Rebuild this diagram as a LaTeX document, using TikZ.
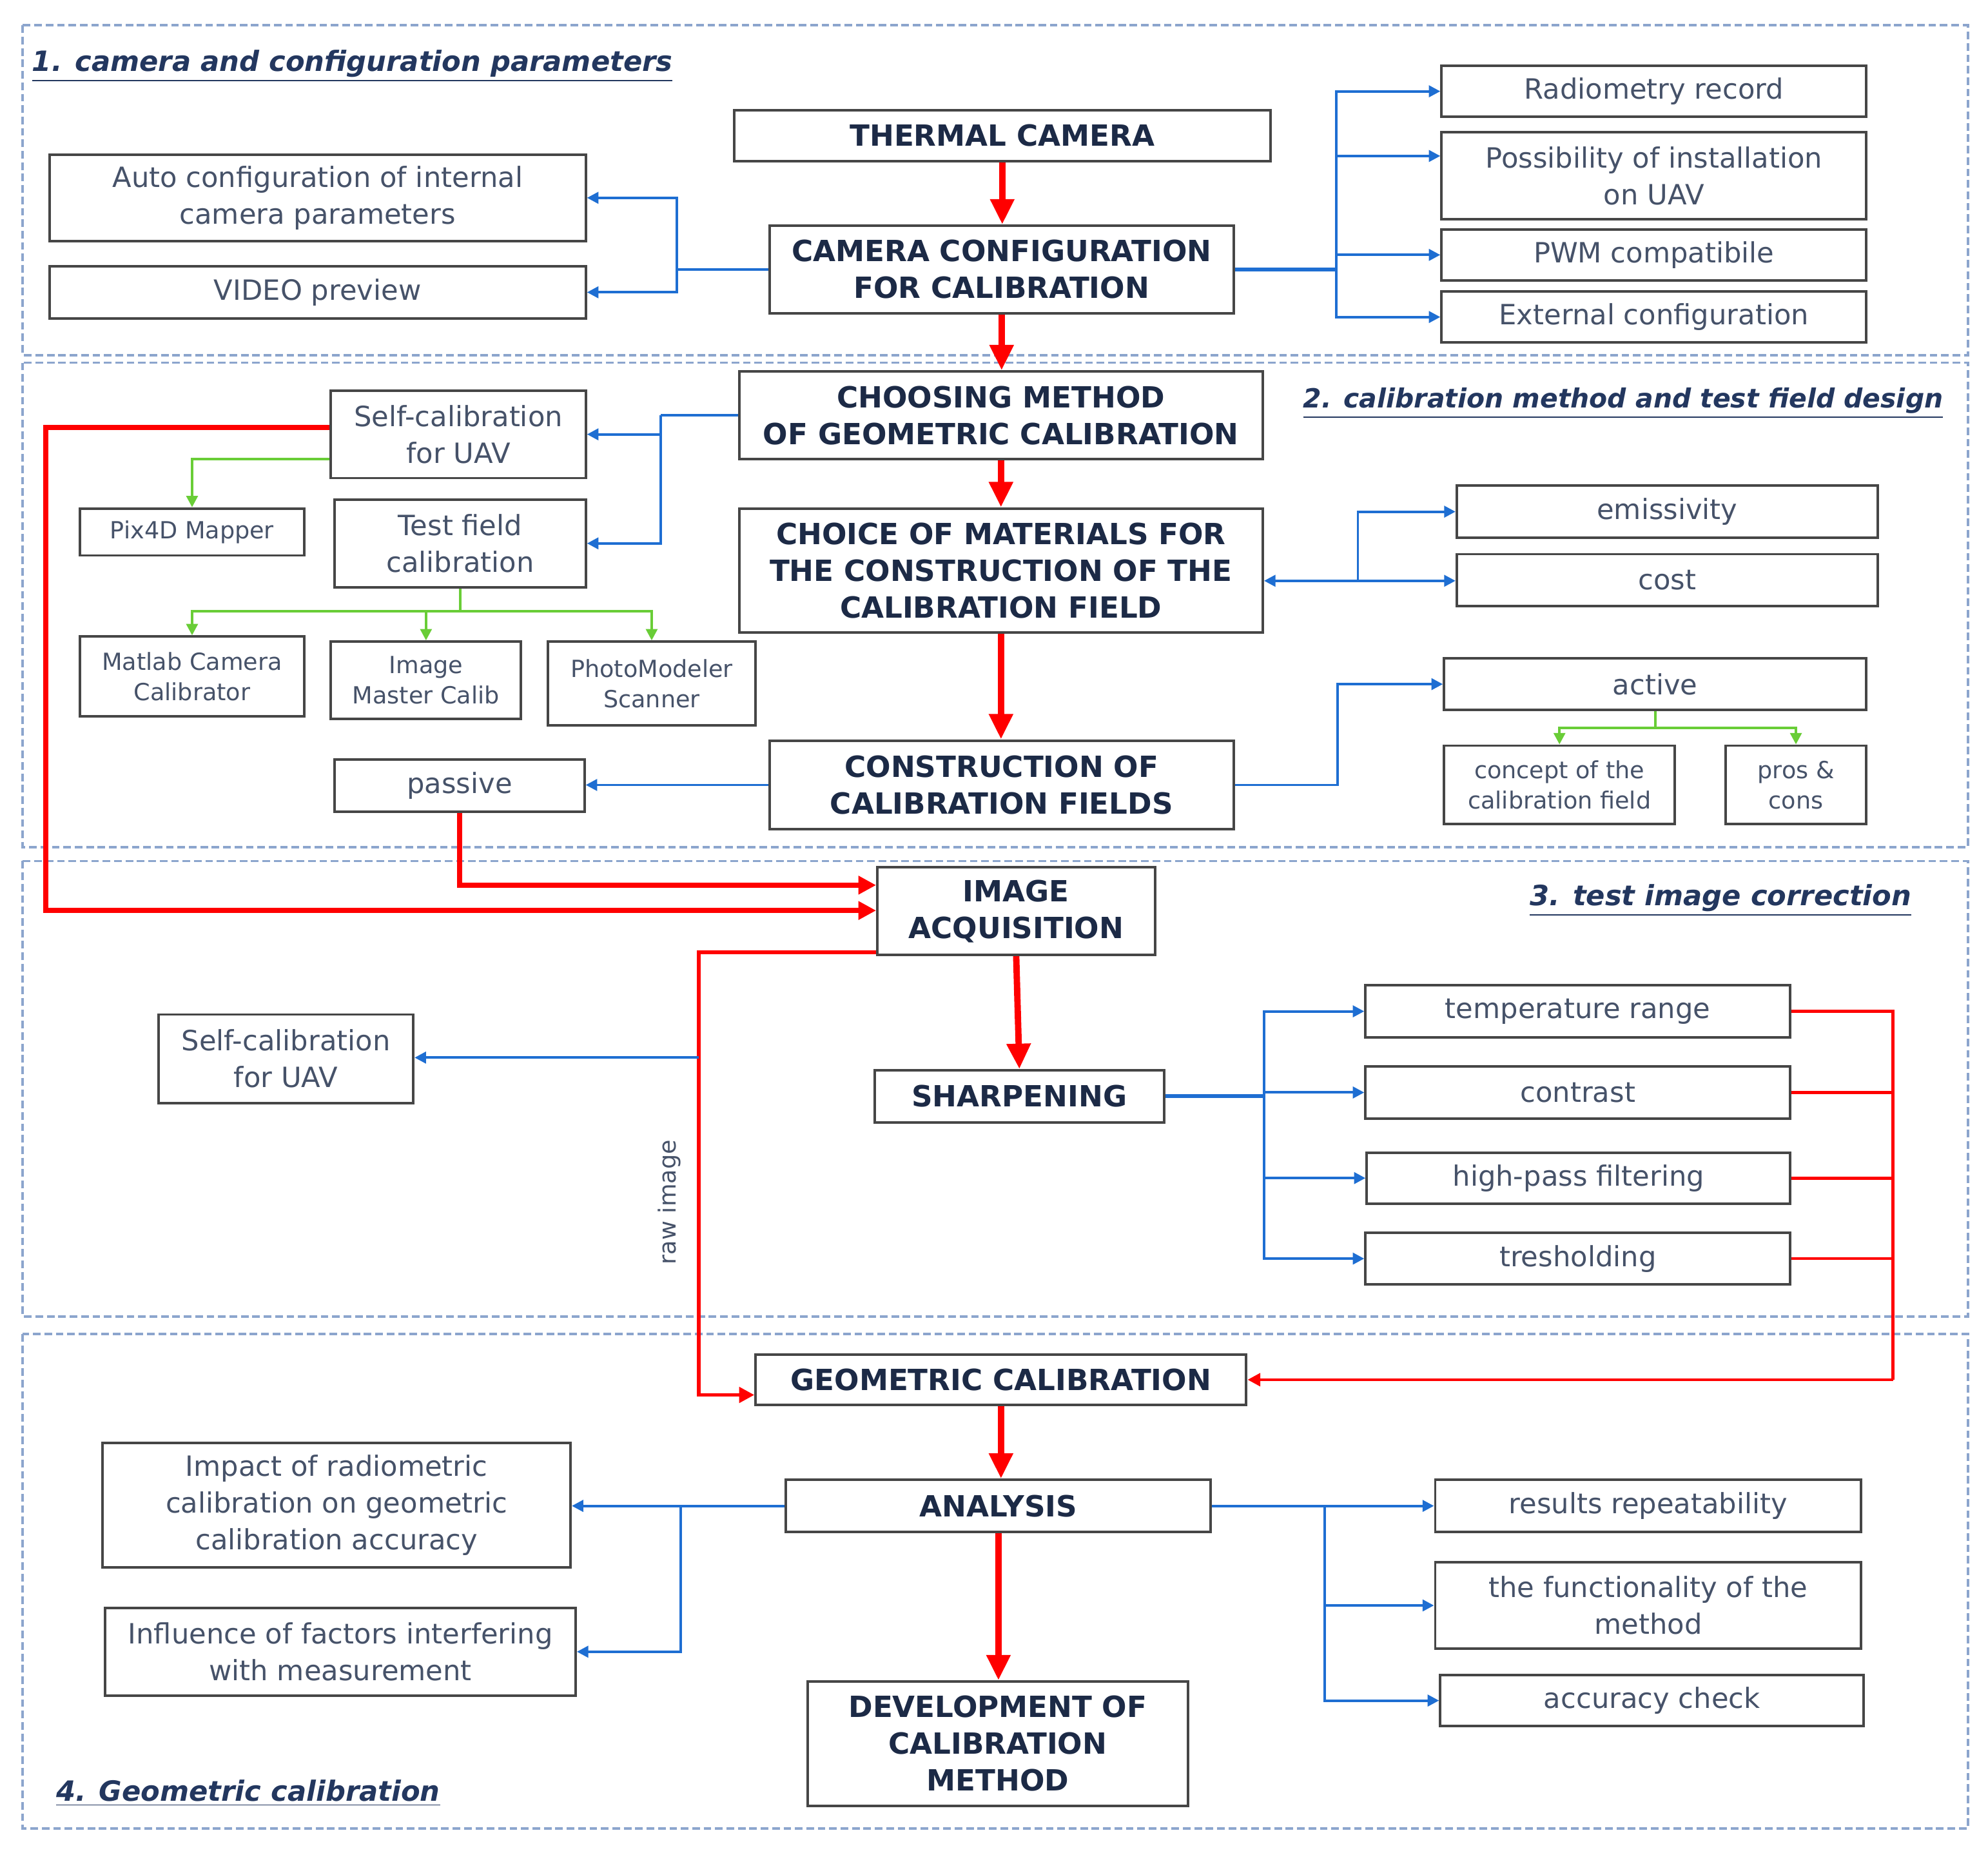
\documentclass[tikz,border=0pt]{standalone}
\usepackage{fontspec}
\setmainfont{DejaVu Sans}
\usetikzlibrary{arrows.meta}
\definecolor{regc}{RGB}{140,165,205}
\definecolor{boxc}{RGB}{70,70,70}
\definecolor{txtn}{RGB}{70,82,105}
\definecolor{txtb}{RGB}{28,42,70}
\definecolor{titc}{RGB}{35,55,95}
\definecolor{bluec}{RGB}{30,110,210}
\definecolor{greenc}{RGB}{105,205,55}
\newcommand{\mkbox}[7]{\node[#7, minimum width={(#4-#2)*0.5pt}, minimum height={(#5-#3)*0.5pt}] (#1) at ({(#2+#4)/2},{(#3+#5)/2}) {#6};}
\tikzset{
 box/.style={draw=boxc, line width=1pt, fill=white, align=center, inner sep=0pt, text=txtn, font=\fontsize{11}{14.5}\selectfont},
 bbox/.style={box, text=txtb, font=\fontsize{11.5}{14.5}\selectfont\bfseries},
 sbox/.style={box, font=\fontsize{9.3}{12}\selectfont},
 region/.style={draw=regc, line width=1pt, dash pattern=on 3pt off 1.5pt},
 redmain/.style={draw=red, line width=2.5pt, -{Triangle[width=9pt,length=10pt]}},
 redfb/.style={draw=red, line width=2pt, -{Triangle[width=7pt,length=7pt]}},
 redraw/.style={draw=red, line width=1.5pt, -{Triangle[width=6pt,length=6pt]}},
 redthin/.style={draw=red, line width=1.2pt},
 bluel/.style={draw=bluec, line width=1pt},
 bluea/.style={bluel, -{Triangle[width=4.5pt,length=4.5pt]}},
 greenl/.style={draw=greenc, line width=1pt},
 greena/.style={greenl, -{Triangle[width=4.5pt,length=4.5pt]}},
 title/.style={text=titc, font=\fontsize{11}{13}\selectfont\bfseries\itshape, inner sep=0pt},
}
\begin{document}
\begin{tikzpicture}[x=0.5pt,y=-0.5pt]
\fill[white] (0,0) rectangle (1568,1461);
\useasboundingbox (0,0) rectangle (1568,1461);
% regions
\draw[region] (18,20) rectangle (1552,280);
\draw[region] (18,286) rectangle (1552,668);
\draw[region] (18,679) rectangle (1552,1038);
\draw[region] (18,1052) rectangle (1552,1442);
% titles
\node[title, anchor=west] (t1) at (25,52) {\underline{1. camera and configuration parameters}};
\node[title, anchor=east, font=\fontsize{10.4}{12}\selectfont\bfseries\itshape] (t2) at (1533,318) {\underline{2. calibration method and test field design}};
\node[title, anchor=east] (t3) at (1508,710) {\underline{3. test image correction}};
\node[title, anchor=west] (t4) at (44,1414) {\underline{4. Geometric calibration}};
% boxes region 1
\mkbox{cam}{579}{87}{1002}{127}{THERMAL CAMERA}{bbox}
\mkbox{cfg}{607}{178}{973}{247}{CAMERA CONFIGURATION\\FOR CALIBRATION}{bbox}
\mkbox{auto}{39}{122}{462}{190}{Auto configuration of internal\\camera parameters}{box}
\mkbox{video}{39}{210}{462}{251}{VIDEO preview}{box}
\mkbox{rad}{1137}{52}{1472}{92}{Radiometry record}{box}
\mkbox{poss}{1137}{104}{1472}{173}{Possibility of installation\\on UAV}{box}
\mkbox{pwm}{1137}{181}{1472}{221}{PWM compatibile}{box}
\mkbox{ext}{1137}{230}{1472}{270}{External configuration}{box}
% region 2
\mkbox{choose}{583}{293}{996}{362}{CHOOSING METHOD\\OF GEOMETRIC CALIBRATION}{bbox}
\mkbox{selfa}{261}{308}{462}{377}{Self-calibration\\for UAV}{box}
\mkbox{test}{264}{394}{462}{463}{Test field\\calibration}{box}
\mkbox{pix}{63}{401}{240}{438}{Pix4D Mapper}{sbox}
\mkbox{matlab}{63}{502}{240}{565}{Matlab Camera\\Calibrator}{sbox}
\mkbox{imm}{261}{506}{411}{567}{Image\\Master Calib}{sbox}
\mkbox{photo}{432}{506}{596}{572}{PhotoModeler\\Scanner}{sbox}
\mkbox{choice}{583}{401}{996}{499}{CHOICE OF MATERIALS FOR\\THE CONSTRUCTION OF THE\\CALIBRATION FIELD}{bbox}
\mkbox{emis}{1149}{383}{1481}{424}{emissivity}{box}
\mkbox{cost}{1149}{437}{1481}{478}{cost}{box}
\mkbox{constr}{607}{584}{973}{654}{CONSTRUCTION OF\\CALIBRATION FIELDS}{bbox}
\mkbox{passive}{264}{599}{461}{640}{passive}{box}
\mkbox{active}{1139}{519}{1472}{560}{active}{box}
\mkbox{concept}{1139}{588}{1321}{650}{concept of the\\calibration field}{sbox}
\mkbox{pros}{1361}{588}{1472}{650}{pros \&\\cons}{sbox}
% region 3
\mkbox{acq}{692}{684}{911}{753}{IMAGE\\ACQUISITION}{bbox}
\mkbox{selfb}{125}{800}{326}{870}{Self-calibration\\for UAV}{box}
\mkbox{sharp}{690}{844}{918}{885}{SHARPENING}{bbox}
\mkbox{temp}{1077}{777}{1412}{818}{temperature range}{box}
\mkbox{contr}{1077}{841}{1412}{882}{contrast}{box}
\mkbox{hp}{1078}{909}{1412}{949}{high-pass filtering}{box}
\mkbox{thr}{1077}{972}{1412}{1013}{tresholding}{box}
% region 4
\mkbox{geo}{596}{1068}{983}{1108}{GEOMETRIC CALIBRATION}{bbox}
\mkbox{anal}{620}{1167}{955}{1208}{ANALYSIS}{bbox}
\mkbox{dev}{637}{1326}{937}{1424}{DEVELOPMENT OF\\CALIBRATION\\METHOD}{bbox}
\mkbox{impact}{81}{1138}{450}{1236}{Impact of radiometric\\calibration on geometric\\calibration accuracy}{box}
\mkbox{infl}{83}{1268}{454}{1337}{Influence of factors interfering\\with measurement}{box}
\mkbox{res}{1132}{1167}{1468}{1208}{results repeatability}{box}
\mkbox{func}{1132}{1232}{1468}{1300}{the functionality of the\\method}{box}
\mkbox{acc}{1136}{1321}{1470}{1361}{accuracy check}{box}
% ---------- connectors region 1
\draw[redmain] (cam.south) -- (cam.south |- cfg.north);
\coordinate (bl1) at (534,212.5);
\draw[bluel] (cfg.west) -- (bl1);
\draw[bluea] (bl1) |- (auto.east);
\draw[bluea] (bl1) |- (video.east);
\coordinate (br1) at (1054,212.5);
\draw[bluel, line width=1.5pt] (cfg.east) -- (br1);
\draw[bluea] (br1) |- (rad.west);
\coordinate (pj) at (1054,123);
\draw[bluea] (br1) -- (pj) -- (pj -| poss.west);
\draw[bluea] (br1) |- (pwm.west);
\draw[bluea] (br1) |- (ext.west);
\draw[redmain] (cfg.south) -- (cfg.south |- choose.north);
% region 2
\coordinate (bl2) at (521,327.5);
\draw[bluel] (choose.west) -- (bl2);
\draw[bluea] (bl2) |- (selfa.east);
\draw[bluea] (bl2) |- (test.east);
\coordinate (g1) at (261,362);
\draw[greena] (selfa.west |- g1) -| (pix.north);
\coordinate (g2) at (362,482);
\draw[greenl] (test.south) -- (test.south |- g2);
\draw[greena] (test.south |- g2) -| (matlab.north);
\draw[greena] (test.south |- g2) -| (imm.north);
\draw[greena] (test.south |- g2) -| (photo.north);
\draw[redmain] (choose.south) -- (choose.south |- choice.north);
\coordinate (bc) at (1071,458);
\draw[bluea] (bc) -- (bc -| choice.east);
\draw[bluea] (bc) |- (emis.west);
\draw[bluea] (bc) -- (bc -| cost.west);
\draw[redmain] (choice.south) -- (choice.south |- constr.north);
\draw[bluea] (constr.west) -- (constr.west -| passive.east);
\coordinate (ba) at (1055,619);
\draw[bluea] (constr.east) -- (constr.east -| ba) |- (active.west);
\coordinate (ga) at (1306,574);
\draw[greenl] (active.south) -- (active.south |- ga);
\draw[greena] (active.south |- ga) -| (concept.north);
\draw[greena] (active.south |- ga) -| (pros.north);
% red feedback
\coordinate (r1) at (36,337);
\coordinate (r2) at (36,718);
\draw[redfb] (selfa.west |- r1) -- (r1) -- (r2) -- (r2 -| acq.west);
\coordinate (r3) at (362.5,698);
\draw[redfb] (passive.south) -- (passive.south |- r3) -- (r3 -| acq.west);
% region 3
\coordinate (r4) at (551,751);
\coordinate (r5) at (551,1100);
\draw[redraw] (r4 -| acq.west) -- (r4) -- (r5) -- (r5 -| geo.west);
\node[rotate=90, text=txtn, font=\fontsize{9.3}{11}\selectfont, inner sep=0pt] (raw) at (528,948) {raw image};
\coordinate (b3) at (551,834);
\draw[bluea] (b3) -- (b3 -| selfb.east);
\draw[redmain] (acq.south) -- (sharp.north);
\coordinate (bs) at (997,864.5);
\draw[bluel, line width=1.5pt] (sharp.east) -- (bs);
\draw[bluea] (bs) |- (temp.west);
\draw[bluea] (bs) |- (contr.west);
\draw[bluea] (bs) |- (hp.west);
\draw[bluea] (bs) |- (thr.west);
\coordinate (rr) at (1493,1088);
\draw[redthin] (temp.east) -| (rr);
\draw[redthin] (contr.east) -- (contr.east -| rr);
\draw[redthin] (hp.east) -- (hp.east -| rr);
\draw[redthin] (thr.east) -- (thr.east -| rr);
\draw[redthin, -{Triangle[width=5pt,length=5pt]}] (rr) -- (rr -| geo.east);
% region 4
\draw[redmain] (geo.south) -- (geo.south |- anal.north);
\draw[redmain] (anal.south) -- (anal.south |- dev.north);
\draw[bluea] (anal.west) -- (anal.west -| impact.east);
\coordinate (b4) at (537,1187.5);
\draw[bluea] (b4) |- (infl.east);
\draw[bluea] (anal.east) -- (anal.east -| res.west);
\coordinate (b5) at (1045,1187.5);
\draw[bluea] (b5) |- (func.west);
\draw[bluea] (b5) |- (acc.west);
\end{tikzpicture}
\end{document}
